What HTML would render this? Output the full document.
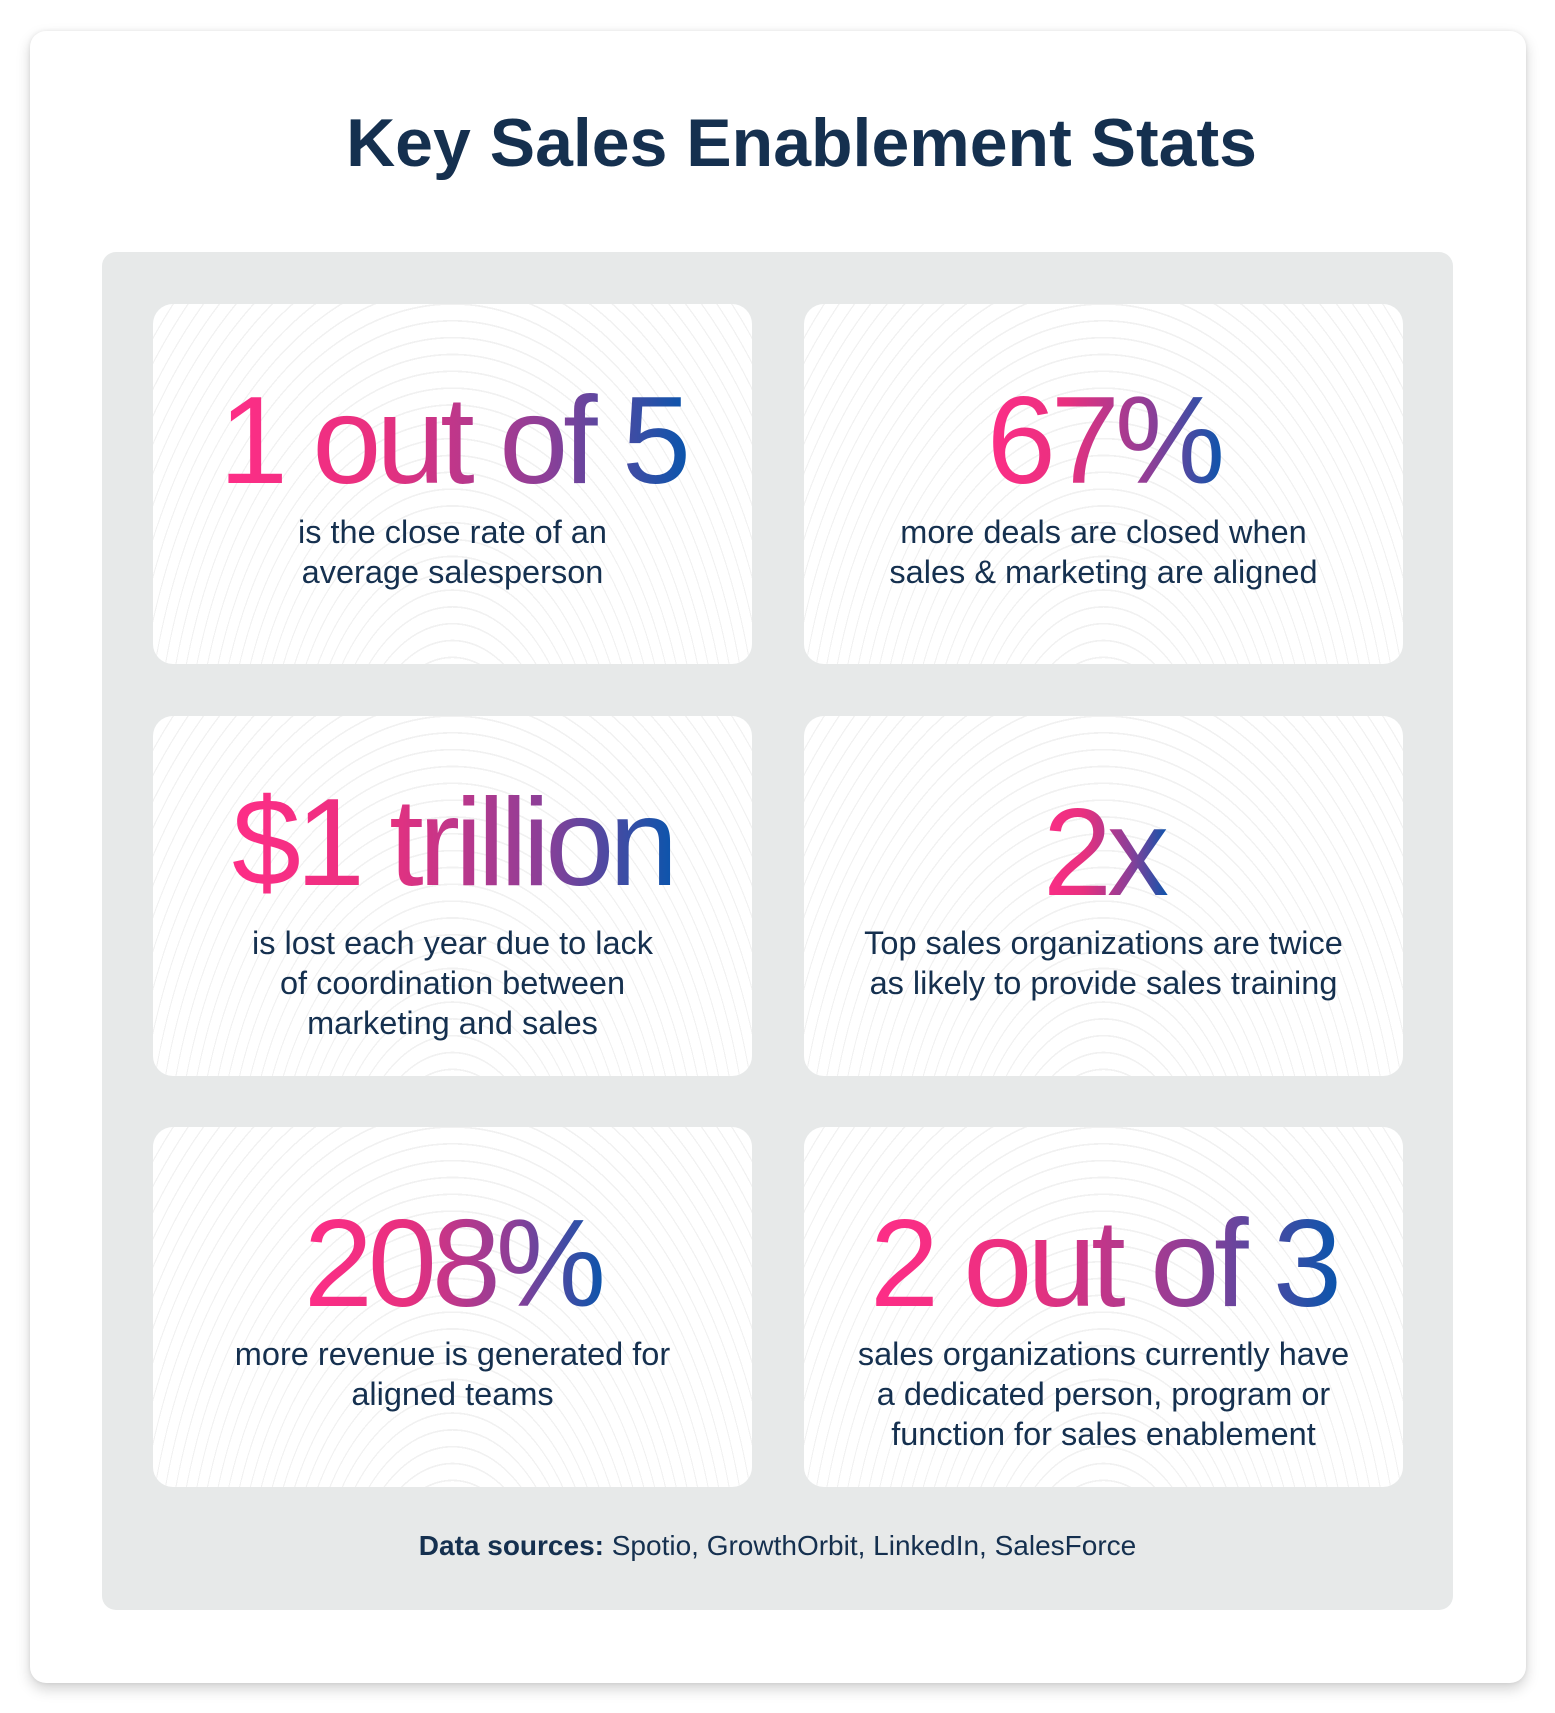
<!DOCTYPE html>
<html><head><meta charset="utf-8"><style>
*{margin:0;padding:0;box-sizing:border-box}
body{width:1555px;height:1713px;background:#fff;font-family:"Liberation Sans",sans-serif;color:#15304f;position:relative;overflow:hidden}
.outer{position:absolute;left:30px;top:31px;width:1496px;height:1652px;background:#fff;border-radius:16px;box-shadow:0 6px 14px rgba(0,0,0,.18),0 0 4px rgba(0,0,0,.08)}
h1{position:absolute;left:24px;width:1555px;top:104px;text-align:center;font-size:68px;font-weight:bold;color:#15304f}
.panel{position:absolute;left:102px;top:252px;width:1351px;height:1358px;background:#e7e9e9;border-radius:14px}
.card{position:absolute;width:599px;height:360px;border-radius:20px;background:repeating-radial-gradient(ellipse at 50% 140%,#fff 0 9px,#f1f1f1 9px 10px);text-align:center}
.c1{left:153px}.c2{left:804px}
.r1{top:304px}.r2{top:716px}.r3{top:1127px}
.big{position:absolute;left:0;right:0;top:81px;text-align:center;font-size:124px;line-height:112px;letter-spacing:-5px}
.big span{background:linear-gradient(90deg,#ff2d87 0%,#e8307f 35%,#8b3f98 70%,#0656ad 100%);-webkit-background-clip:text;background-clip:text;color:transparent;display:inline-block;padding:0 6px}
.sub{position:absolute;left:0;right:0;top:207px;font-size:32.5px;line-height:40px;color:#15304f}
.r1 .sub{top:208px}
.src{position:absolute;left:0;width:1555px;top:1530px;text-align:center;font-size:28px;color:#15304f}
</style></head><body>
<div class="outer"></div>
<h1>Key Sales Enablement Stats</h1>
<div class="panel"></div>
<div class="card c1 r1"><div class="big"><span>1 out of 5</span></div><div class="sub">is the close rate of an<br>average salesperson</div></div>
<div class="card c2 r1"><div class="big"><span>67%</span></div><div class="sub">more deals are closed when<br>sales &amp; marketing are aligned</div></div>
<div class="card c1 r2"><div class="big" style="top:71px"><span>$1 trillion</span></div><div class="sub">is lost each year due to lack<br>of coordination between<br>marketing and sales</div></div>
<div class="card c2 r2"><div class="big"><span>2x</span></div><div class="sub">Top sales organizations are twice<br>as likely to provide sales training</div></div>
<div class="card c1 r3"><div class="big"><span>208%</span></div><div class="sub">more revenue is generated for<br>aligned teams</div></div>
<div class="card c2 r3"><div class="big"><span>2 out of 3</span></div><div class="sub">sales organizations currently have<br>a dedicated person, program or<br>function for sales enablement</div></div>
<div class="src"><b>Data sources:</b> Spotio, GrowthOrbit, LinkedIn, SalesForce</div>
</body></html>
